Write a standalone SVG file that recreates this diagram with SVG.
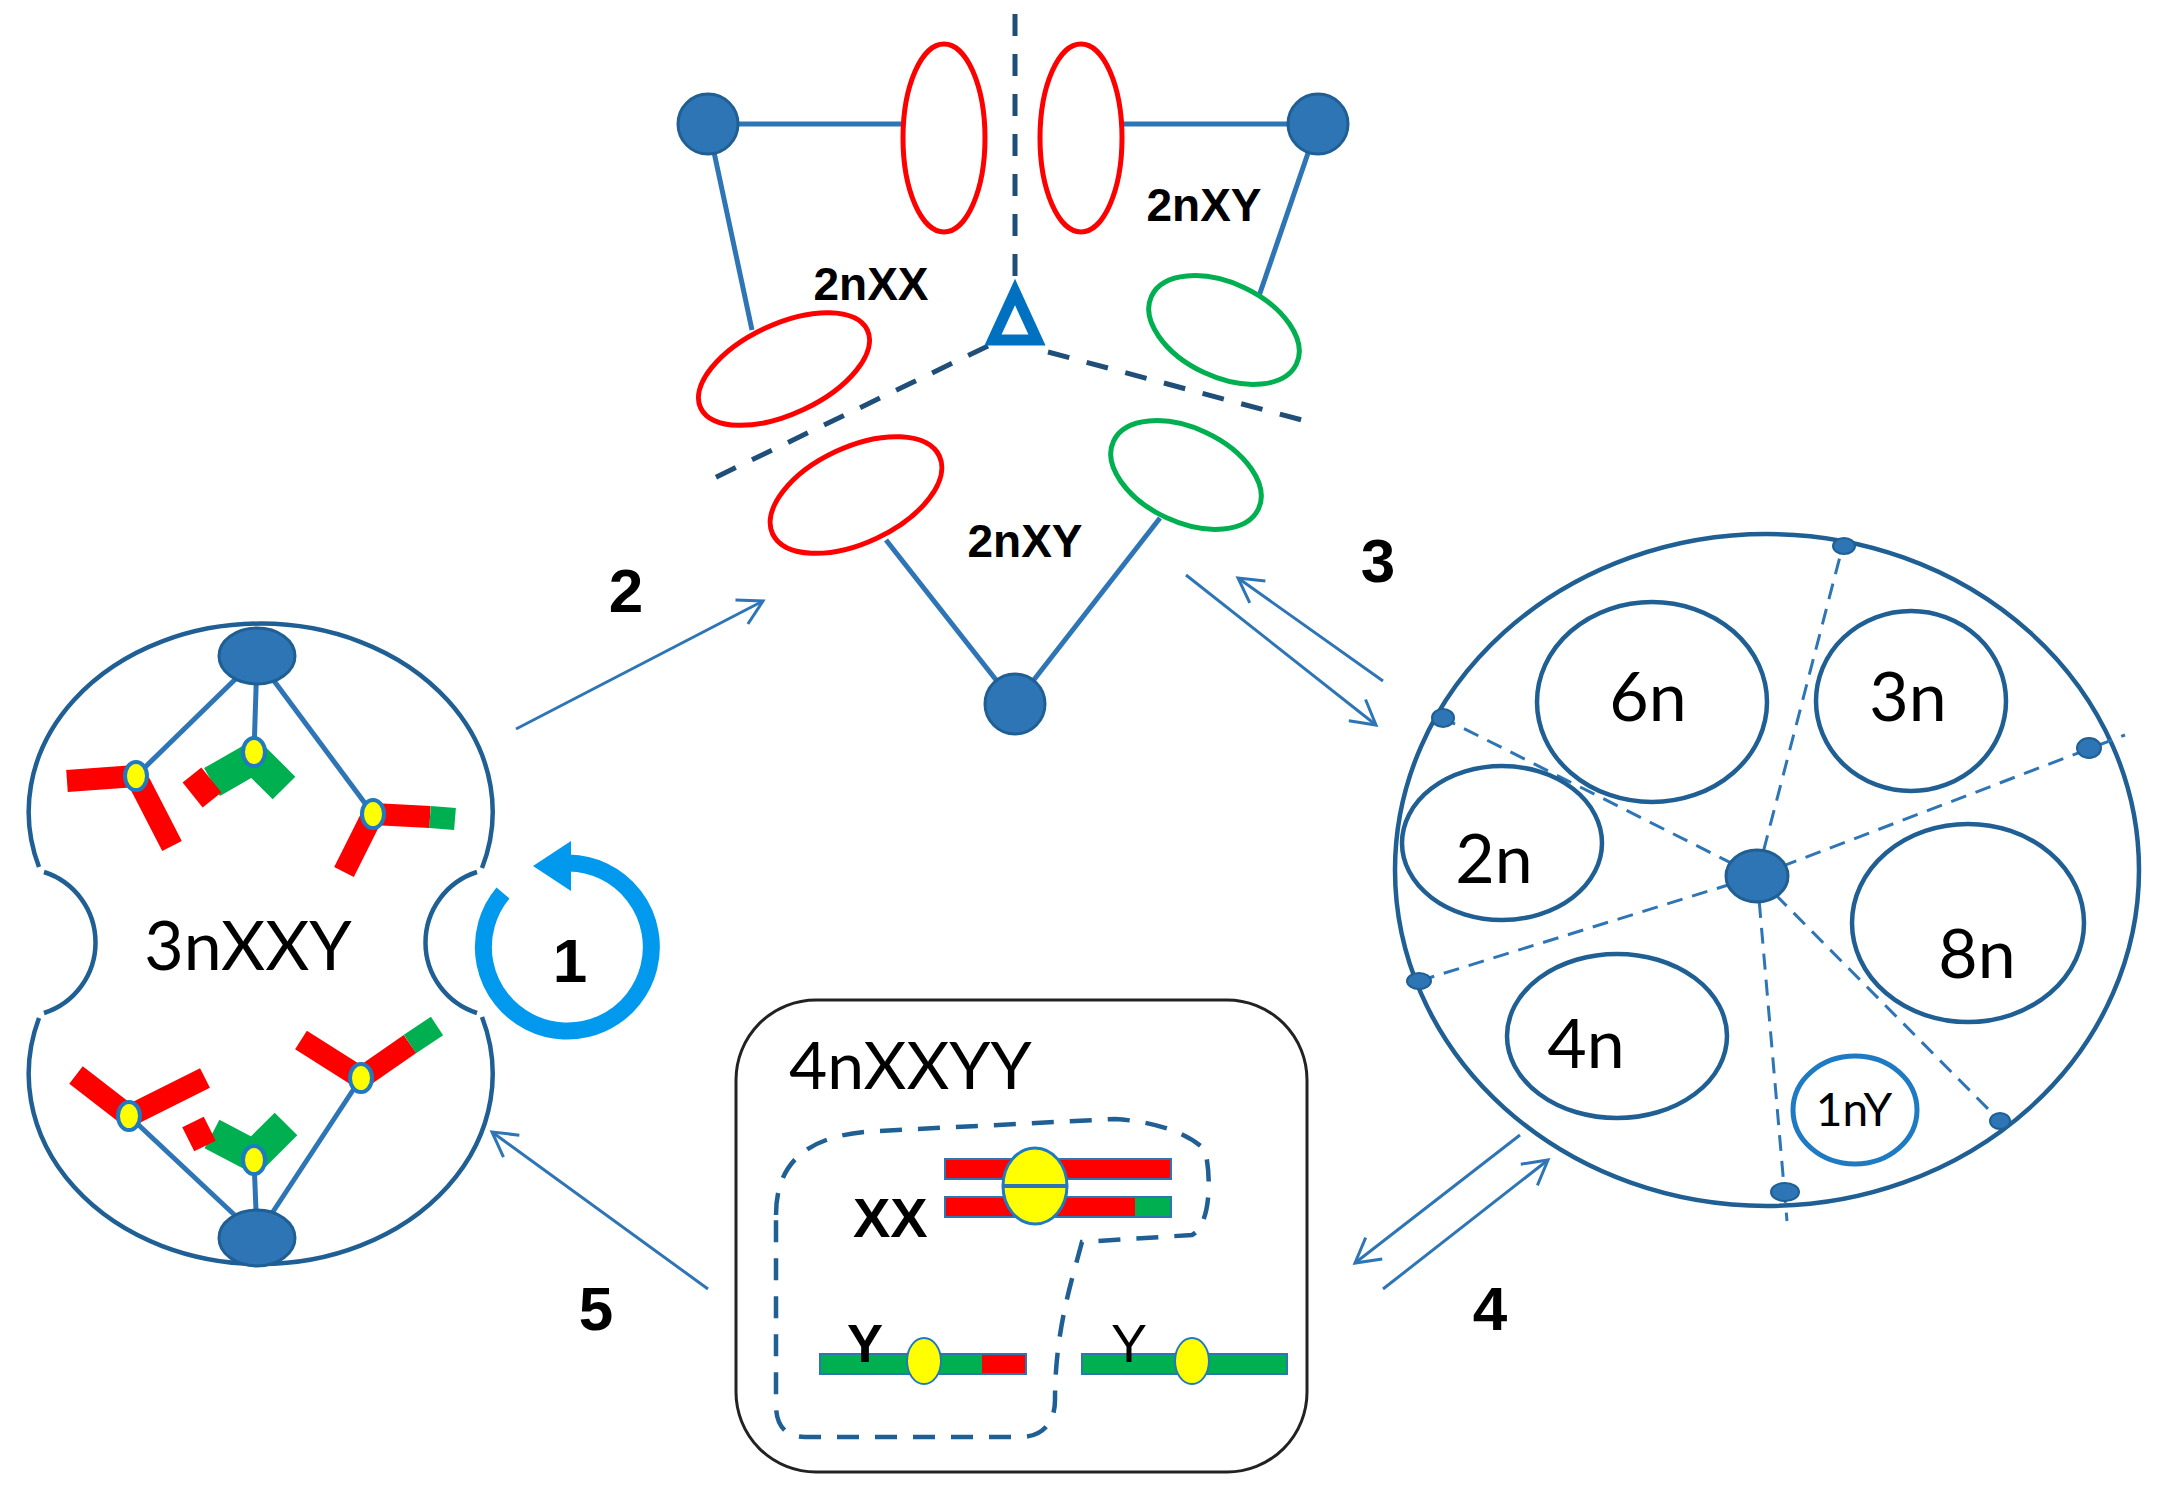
<svg xmlns="http://www.w3.org/2000/svg" width="2157" height="1490" viewBox="0 0 2157 1490">
<style>
.ol{fill:none;stroke:#1f5f93;stroke-width:4.5}
.tl{fill:none;stroke:#2e75b6;stroke-width:5}
.nd{fill:#2e75b6;stroke:#1f5f93;stroke-width:3}
.dash{fill:none;stroke:#1f4e79;stroke-width:5;stroke-dasharray:22 18}
.dsh2{fill:none;stroke:#2e75b6;stroke-width:3;stroke-dasharray:16 10}
.red{fill:none;stroke:#ff0000;stroke-width:5}
.grn{fill:none;stroke:#00b050;stroke-width:5}
.arm{stroke-width:22;fill:none}
.cen{fill:#ffff00;stroke:#1e7ac2;stroke-width:4}
.arr{stroke:#2e75b6;stroke-width:3;fill:none;marker-end:url(#ah)}
.num{font-family:"Liberation Sans",Arial,sans-serif;font-weight:bold;font-size:62px;fill:#000;text-anchor:middle}
.lbl{font-family:"Liberation Sans",Arial,sans-serif;font-weight:bold;font-size:46px;fill:#000;text-anchor:middle}
.big{font-family:Lato,"Open Sans",sans-serif;font-size:68px;fill:#000;text-anchor:middle}
.bar{stroke:#2e75b6;stroke-width:2}
</style>
<defs>
<marker id="ah" viewBox="0 0 10 10" refX="9" refY="5" markerWidth="10" markerHeight="10" orient="auto" markerUnits="strokeWidth">
<path d="M1,0.5 L9,5 L1,9.5" fill="none" stroke="#2e75b6" stroke-width="1"/>
</marker>
</defs>

<g id="cell3n">
<path class="ol" d="M39 867 A232 188 0 1 1 482 868"/>
<path class="ol" d="M482 1017 A232 190 0 1 1 39 1018"/>
<path class="ol" d="M44 872 A74 74 0 0 1 44 1013"/>
<path class="ol" d="M477 872 A74 74 0 0 0 477 1013"/>
<g class="tl" stroke-width="4">
<line x1="257" y1="658" x2="136" y2="776"/>
<line x1="257" y1="658" x2="254" y2="752"/>
<line x1="257" y1="658" x2="373" y2="814"/>
<line x1="257" y1="1236" x2="129" y2="1116"/>
<line x1="257" y1="1236" x2="254" y2="1160"/>
<line x1="257" y1="1236" x2="361" y2="1078"/>
</g>
<ellipse class="nd" cx="257" cy="656" rx="38" ry="28"/>
<ellipse class="nd" cx="257" cy="1238" rx="38" ry="28"/>
<line class="arm" stroke="#ff0000" x1="67" y1="781" x2="136" y2="776"/>
<line class="arm" stroke="#ff0000" x1="136" y1="776" x2="172" y2="846"/>
<line stroke="#00b050" stroke-width="32" x1="254" y1="758" x2="212" y2="782"/>
<line stroke="#00b050" stroke-width="32" x1="254" y1="758" x2="284" y2="788"/>
<line stroke="#ff0000" stroke-width="24" x1="192" y1="775" x2="212" y2="800"/>
<line class="arm" stroke="#ff0000" x1="373" y1="814" x2="430" y2="817"/>
<line class="arm" stroke="#00b050" x1="430" y1="817" x2="455" y2="819"/>
<line class="arm" stroke="#ff0000" x1="373" y1="814" x2="344" y2="872"/>
<line class="arm" stroke="#ff0000" x1="129" y1="1116" x2="76" y2="1075"/>
<line class="arm" stroke="#ff0000" x1="129" y1="1116" x2="205" y2="1078"/>
<line stroke="#00b050" stroke-width="32" x1="254" y1="1156" x2="212" y2="1134"/>
<line stroke="#00b050" stroke-width="32" x1="254" y1="1156" x2="286" y2="1124"/>
<line stroke="#ff0000" stroke-width="24" x1="193" y1="1122" x2="205" y2="1146"/>
<line class="arm" stroke="#ff0000" x1="361" y1="1078" x2="301" y2="1040"/>
<line class="arm" stroke="#ff0000" x1="361" y1="1078" x2="410" y2="1044"/>
<line class="arm" stroke="#00b050" x1="410" y1="1044" x2="437" y2="1026"/>
<ellipse class="cen" cx="136" cy="776" rx="11" ry="14"/>
<ellipse class="cen" cx="254" cy="752" rx="11" ry="14"/>
<ellipse class="cen" cx="373" cy="814" rx="11" ry="14"/>
<ellipse class="cen" cx="129" cy="1116" rx="11" ry="14"/>
<ellipse class="cen" cx="254" cy="1160" rx="11" ry="14"/>
<ellipse class="cen" cx="361" cy="1078" rx="11" ry="14"/>
<text class="big" x="248" y="970">3nXXY</text>
</g>

<g id="cycle1">
<path d="M503 893 A84 84 0 1 0 569 863" fill="none" stroke="#0099ee" stroke-width="17"/>
<polygon points="533,866 571,841 571,891" fill="#0099ee"/>
<text class="num" x="570" y="982">1</text>
</g>

<g id="spindle2n">
<line class="tl" x1="708" y1="124" x2="903" y2="124"/>
<line class="tl" x1="1121" y1="124" x2="1318" y2="124"/>
<line class="tl" x1="708" y1="124" x2="752" y2="330"/>
<line class="tl" x1="886" y1="540" x2="1015" y2="704"/>
<line class="tl" x1="1318" y1="124" x2="1259" y2="296"/>
<line class="tl" x1="1160" y1="518" x2="1015" y2="704"/>
<line class="dash" x1="1015" y1="14" x2="1015" y2="282"/>
<line class="dash" x1="988" y1="346" x2="708" y2="481"/>
<line class="dash" x1="1048" y1="352" x2="1302" y2="420"/>
<ellipse class="red" cx="944" cy="138" rx="41" ry="94"/>
<ellipse class="red" cx="1081" cy="138" rx="41" ry="94"/>
<ellipse class="red" cx="784" cy="369" rx="92" ry="45" transform="rotate(-25 784 369)"/>
<ellipse class="red" cx="856" cy="495" rx="92" ry="48" transform="rotate(-25 856 495)"/>
<ellipse class="grn" cx="1224" cy="330" rx="80" ry="47" transform="rotate(25 1224 330)"/>
<ellipse class="grn" cx="1186" cy="475" rx="80" ry="47" transform="rotate(25 1186 475)"/>
<polygon points="1015,292 993,340 1037,340" fill="none" stroke="#0070c0" stroke-width="11"/>
<circle class="nd" cx="708" cy="124" r="30"/>
<circle class="nd" cx="1318" cy="124" r="30"/>
<circle class="nd" cx="1015" cy="704" r="30"/>
<text class="lbl" x="871" y="300">2nXX</text>
<text class="lbl" x="1204" y="221">2nXY</text>
<text class="lbl" x="1025" y="557">2nXY</text>
</g>

<g id="cellPloidy">
<ellipse class="ol" cx="1767" cy="870" rx="372" ry="336"/>
<g class="dsh2">
<line x1="1757" y1="876" x2="1844" y2="541"/>
<line x1="1757" y1="876" x2="1435" y2="714"/>
<line x1="1757" y1="876" x2="2125" y2="735"/>
<line x1="1757" y1="876" x2="1419" y2="981"/>
<line x1="1757" y1="876" x2="1787" y2="1221"/>
<line x1="1757" y1="876" x2="2000" y2="1121"/>
</g>
<ellipse class="ol" cx="1652" cy="702" rx="115" ry="100"/>
<ellipse class="ol" cx="1911" cy="701" rx="95" ry="90"/>
<ellipse class="ol" cx="1502" cy="843" rx="100" ry="77"/>
<ellipse class="ol" cx="1968" cy="923" rx="116" ry="99"/>
<ellipse class="ol" cx="1617" cy="1036" rx="110" ry="82"/>
<ellipse cx="1855" cy="1110" rx="62" ry="54" fill="none" stroke="#1e7ac2" stroke-width="5"/>
<ellipse class="nd" cx="1757" cy="876" rx="31" ry="26"/>
<g fill="#2e75b6" stroke="#1f5f93" stroke-width="2">
<ellipse cx="1844" cy="546" rx="11" ry="8"/>
<ellipse cx="1443" cy="718" rx="11" ry="9"/>
<ellipse cx="2089" cy="748" rx="12" ry="10"/>
<ellipse cx="1419" cy="981" rx="12" ry="8"/>
<ellipse cx="2000" cy="1121" rx="10" ry="8"/>
<ellipse cx="1785" cy="1192" rx="14" ry="9"/>
</g>
<text class="big" x="1648" y="721" font-size="70">6n</text>
<text class="big" x="1908" y="721" font-size="70">3n</text>
<text class="big" x="1494" y="883" font-size="70">2n</text>
<text class="big" x="1977" y="978" font-size="70">8n</text>
<text class="big" x="1586" y="1068" font-size="70">4n</text>
<text class="big" x="1854" y="1126" style="font-size:46px">1nY</text>
</g>

<g id="cell4n">
<rect x="736" y="1000" width="571" height="472" rx="80" fill="none" stroke="#222" stroke-width="3"/>
<text x="789" y="1089" font-family="Lato,'Open Sans',sans-serif" font-size="66">4nXXYY</text>
<path style="fill:none;stroke:#1f5f93;stroke-width:4.5;stroke-dasharray:22 16" d="M776 1215 C776 1160 810 1134 878 1131 L1115 1119 C1160 1122 1190 1135 1205 1150 C1212 1180 1210 1225 1192 1235 L1082 1242 C1072 1280 1055 1330 1055 1400 C1055 1425 1040 1437 1020 1437 L805 1437 C785 1437 776 1425 776 1405 Z"/>
<rect class="bar" x="945" y="1159" width="226" height="20" fill="#ff0000"/>
<rect class="bar" x="945" y="1197" width="226" height="20" fill="#ff0000"/>
<rect x="1135" y="1198" width="35" height="18" fill="#00b050"/>
<ellipse class="cen" cx="1035" cy="1186" rx="32" ry="38" style="stroke-width:3"/>
<line x1="1003" y1="1186" x2="1067" y2="1186" stroke="#2e75b6" stroke-width="4"/>
<text x="853" y="1237" font-family="'Liberation Sans',Arial,sans-serif" font-weight="bold" font-size="56">XX</text>
<rect class="bar" x="820" y="1354" width="206" height="20" fill="#00b050"/>
<rect x="982" y="1355" width="43" height="18" fill="#ff0000"/>
<ellipse class="cen" cx="924" cy="1361" rx="17" ry="23" style="stroke-width:2"/>
<text x="865" y="1362" text-anchor="middle" font-family="'Liberation Sans',Arial,sans-serif" font-weight="bold" font-size="54">Y</text>
<rect class="bar" x="1082" y="1354" width="205" height="20" fill="#00b050"/>
<ellipse class="cen" cx="1192" cy="1361" rx="17" ry="23" style="stroke-width:2"/>
<text x="1129" y="1362" text-anchor="middle" font-family="'Liberation Sans',Arial,sans-serif" font-size="54">Y</text>
</g>

<g id="connectors">
<line class="arr" x1="516" y1="729" x2="763" y2="601"/>
<line class="arr" x1="1186" y1="575" x2="1376" y2="725"/>
<line class="arr" x1="1383" y1="681" x2="1238" y2="578"/>
<line class="arr" x1="1520" y1="1135" x2="1355" y2="1263"/>
<line class="arr" x1="1383" y1="1289" x2="1548" y2="1160"/>
<line class="arr" x1="708" y1="1289" x2="492" y2="1132"/>
</g>
<g id="labels">
<text class="num" x="626" y="612">2</text>
<text class="num" x="1378" y="582">3</text>
<text class="num" x="1490" y="1330">4</text>
<text class="num" x="596" y="1330">5</text>
</g>
</svg>
